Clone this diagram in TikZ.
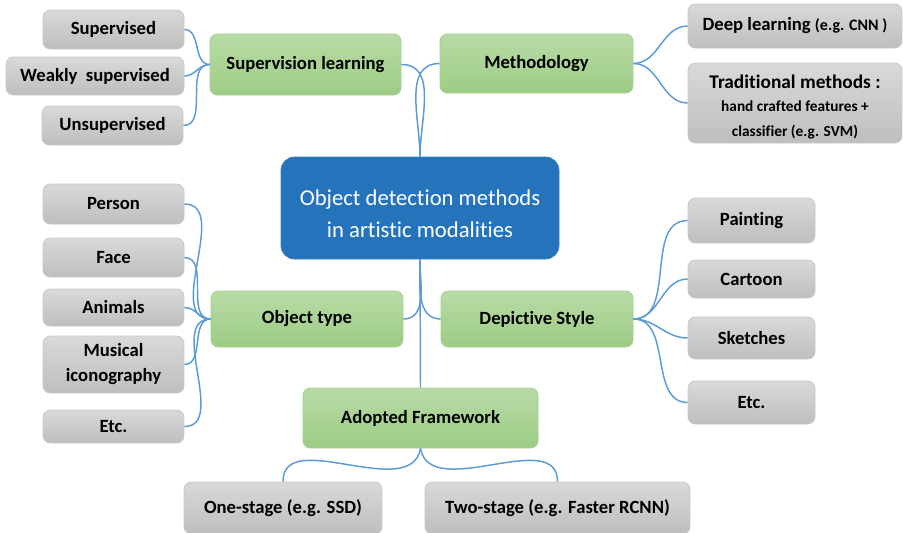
\documentclass[tikz,border=0pt]{standalone}
\usepackage{fontspec}
\setmainfont{Carlito}[Ligatures={NoCommon}]
\definecolor{gtop}{RGB}{184,219,166}
\definecolor{gbot}{RGB}{157,204,133}
\definecolor{gdraw}{RGB}{165,208,145}
\definecolor{ytop}{RGB}{217,217,217}
\definecolor{ybot}{RGB}{190,190,190}
\definecolor{ydraw}{RGB}{200,200,200}
\definecolor{cblue}{RGB}{37,116,187}
\definecolor{cbdraw}{RGB}{60,130,195}
\definecolor{lblue}{RGB}{91,155,213}
\tikzset{
  sz/.style 2 args={minimum width=#1*0.75pt, minimum height=#2*0.75pt},
  basebox/.style={inner sep=0pt, align=center, rounded corners=5.5pt, line width=0.6pt},
  greenbox/.style={basebox, draw=gdraw, top color=gtop, bottom color=gbot, font=\bfseries\fontsize{14}{17}\selectfont},
  graybox/.style={basebox, draw=ydraw, top color=ytop, bottom color=ybot, font=\bfseries\fontsize{14}{18.75}\selectfont},
  centerbox/.style={basebox, rounded corners=10pt, draw=cbdraw, fill=cblue},
  centertext/.style={inner sep=0pt, align=center, text=white, font=\fontsize{17}{24}\selectfont},
  tradtext/.style={inner sep=0pt, align=center, font=\bfseries\fontsize{14.5}{18.75}\selectfont},
  link/.style={draw=lblue, line width=1.1pt}
}
\begin{document}
\begin{tikzpicture}[x=0.75pt, y=-0.75pt]
\useasboundingbox (0,0) rectangle (903,532);
% central
\node[centerbox, sz={278}{102}] (c) at (420,208) {};
\node[centertext] (ctext) at (420,214) {Object detection methods\\in artistic modalities};
% green groups
\node[greenbox, sz={191}{61}] (sl) at (305.5,64.5) {Supervision learning};
\node[greenbox, sz={193}{59}] (meth) at (536.5,63.5) {Methodology};
\node[greenbox, sz={192}{56}] (ot) at (307,319) {Object type};
\node[greenbox, sz={192}{56}] (ds) at (537,319) {Depictive Style};
\node[greenbox, sz={235}{60}] (af) at (420.5,418) {Adopted Framework};
% gray leaves: supervision
\node[graybox, sz={141}{39}] (sup) at (113.5,29.5) {Supervised};
\node[graybox, sz={178}{38}] (weak) at (95,76) {Weakly\ \ supervised};
\node[graybox, sz={141}{39}] (uns) at (112.5,125.5) {Unsupervised};
% methodology
\node[graybox, sz={214}{44}] (deep) at (795,26) {Deep learning {\fontsize{12}{14}\selectfont(e.g. CNN )}};
\node[graybox, sz={214}{80}] (trad) at (795,103) {};
\node[tradtext] (tradtext) at (795,107) {Traditional methods :\\[-1.5pt]{\fontsize{11.5}{16}\selectfont hand crafted features +}\\{\fontsize{11.5}{16}\selectfont classifier (e.g. SVM)}};
% object type
\node[graybox, sz={141}{40}] (person) at (113.5,204) {Person};
\node[graybox, sz={141}{39}] (face) at (113.5,257.5) {Face};
\node[graybox, sz={141}{37}] (anim) at (113.5,307.5) {Animals};
\node[graybox, sz={141}{57}] (mus) at (113.5,364.5) {Musical\\iconography};
\node[graybox, sz={141}{33}] (etcl) at (113.5,426.5) {Etc.};
% depictive style
\node[graybox, sz={127}{45}] (paint) at (751.5,220.5) {Painting};
\node[graybox, sz={127}{38}] (cart) at (751.5,279) {Cartoon};
\node[graybox, sz={127}{42}] (sketch) at (751.5,338) {Sketches};
\node[graybox, sz={127}{43}] (etcr) at (751.5,402.5) {Etc.};
% framework
\node[graybox, sz={198}{52}] (one) at (283,508) {One-stage (e.g. SSD)};
\node[graybox, sz={265}{52}] (two) at (557.5,508) {Two-stage (e.g. Faster RCNN)};
% connectors
\draw[link] (sl.east) to[out=0,in=90] (c.north);
\draw[link] (meth.west) to[out=180,in=90] (c.north);
\draw[link] (ot.east) to[out=0,in=-90] (c.south);
\draw[link] (ds.west) to[out=180,in=-90] (c.south);
\draw[link] (c.south) -- (af.north);
\foreach \n in {sup,weak,uns}{\draw[link] (\n.east) to[out=0,in=180] (sl.west);}
\foreach \n in {deep,trad}{\draw[link] (meth.east) to[out=0,in=180] (\n.west);}
\foreach \n in {person,face,anim,mus,etcl}{\draw[link] (\n.east) to[out=0,in=180] (ot.west);}
\foreach \n in {paint,cart,sketch,etcr}{\draw[link] (ds.east) to[out=0,in=180] (\n.west);}
\draw[link] (af.south) to[out=-100,in=90] (one.north);
\draw[link] (af.south) to[out=-80,in=90] (two.north);
\end{tikzpicture}
\end{document}
